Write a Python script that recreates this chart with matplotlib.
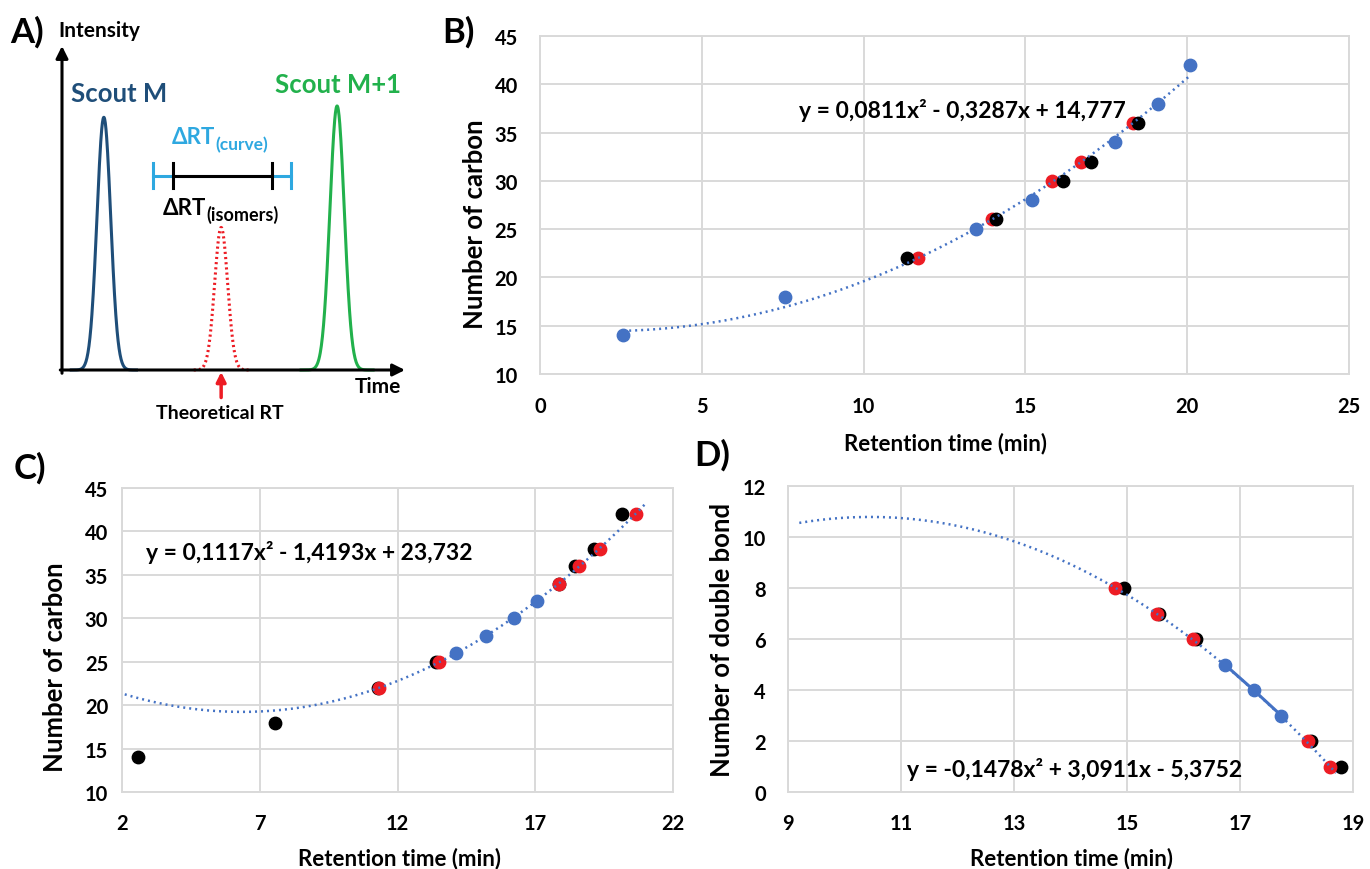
import matplotlib
matplotlib.use('Agg')
import matplotlib.pyplot as plt
import numpy as np

plt.rcParams['font.family'] = ['Lato', 'DejaVu Sans']
plt.rcParams['font.weight'] = 'bold'

W, H = 1370, 870

# ---- panel A : schematic chromatogram (time / intensity units) ----
peak_names = ['Scout M', 'Theoretical', 'Scout M+1']
peak_centers = [1.22, 4.64, 8.02]
peak_heights = [0.78, 0.44, 0.815]
peak_sigmas = [0.20, 0.19, 0.21]
peak_halfspan = [0.95, 0.8, 1.05]
peak_colors = ['#1F4E79', '#ED1C24', '#22B14C']
rt_curve = [2.64, 6.68]
rt_isomers = [3.24, 6.12]
rt_bar_y = 0.6

# ---- panel B ----
b_blue_x = [2.57, 7.58, 13.48, 15.19, 17.78, 19.1, 20.1]
b_blue_y = [14, 18, 25, 28, 34, 38, 42]
b_red_x = [11.67, 13.97, 15.82, 16.72, 18.33]
b_red_y = [22, 26, 30, 32, 36]
b_black_x = [11.35, 14.1, 16.17, 17.03, 18.47]
b_black_y = [22, 26, 30, 32, 36]
b_coef = [0.0811, -0.3287, 14.777]
b_fit_range = [2.57, 20.1]

# ---- panel C ----
c_blue_x = [14.14, 15.2, 16.22, 17.05]
c_blue_y = [26, 28, 30, 32]
c_red_x = [11.32, 13.49, 17.87, 18.58, 19.34, 20.66]
c_red_y = [22, 25, 34, 36, 38, 42]
c_black_x = [2.57, 7.57, 11.3, 13.41, 17.85, 18.46, 19.12, 20.16]
c_black_y = [14, 18, 22, 25, 34, 36, 38, 42]
c_coef = [0.1117, -1.4193, 23.732]
c_fit_range = [2.1, 21.0]

# ---- panel D ----
d_blue_x = [16.73, 17.24, 17.73]
d_blue_y = [5, 4, 3]
d_red_x = [14.79, 15.53, 16.16, 18.2, 18.6]
d_red_y = [8, 7, 6, 2, 1]
d_black_x = [14.95, 15.56, 16.23, 18.26, 18.78]
d_black_y = [8, 7, 6, 2, 1]
d_coef = [-0.1478, 3.0911, -5.3752]
d_fit_range = [9.2, 18.7]

BLUE = '#4472C4'
RED = '#ED1C24'
GRID = '#D9D9D9'
MS = 80
TICK_FS = 14.5
XLAB_FS = 16
YLAB_FS = 18.5
EQ_FS = 16.5


def px_axes(fig, left, top, right, bottom):
    return fig.add_axes([left / W, 1 - bottom / H, (right - left) / W, (bottom - top) / H])


def excel_style(ax, xlim, ylim, xticks, yticks, xpad, ypad):
    ax.set_xlim(xlim)
    ax.set_ylim(ylim)
    ax.set_xticks(xticks)
    ax.set_yticks(yticks)
    ax.grid(True, color=GRID, lw=1.4, zorder=0)
    ax.set_axisbelow(True)
    for s in ax.spines.values():
        s.set_color(GRID)
        s.set_linewidth(1.4)
    ax.tick_params(axis='x', length=0, pad=xpad, labelsize=TICK_FS)
    ax.tick_params(axis='y', length=0, pad=ypad, labelsize=TICK_FS)


def trend(ax, coef, rng):
    xs = np.linspace(rng[0], rng[1], 200)
    ax.plot(xs, np.polyval(coef, xs), color=BLUE, lw=1.8,
            linestyle=(0, (0.8, 1.6)), zorder=5)


fig = plt.figure(figsize=(13.7, 8.7), dpi=100)

# Panel A
axa = px_axes(fig, 62, 47, 405, 371)
axa.set_xlim(0, 10)
axa.set_ylim(0, 1)
axa.axis('off')
for c, h, s, hs, col, name in zip(peak_centers, peak_heights, peak_sigmas,
                                  peak_halfspan, peak_colors, peak_names):
    xs = np.linspace(c - hs, c + hs, 200)
    ys = h * np.exp(-0.5 * ((xs - c) / s) ** 2)
    if name == 'Theoretical':
        axa.plot(xs, ys, color=col, lw=2.2, linestyle=(0, (0.7, 1.0)), clip_on=False)
    else:
        axa.plot(xs, ys, color=col, lw=2.2, clip_on=False)
axa.annotate('', xy=(10, 0), xytext=(-0.05, 0), xycoords='data',
             arrowprops=dict(arrowstyle='-|>', color='black', lw=2.2,
                             mutation_scale=18, shrinkA=0, shrinkB=0),
             annotation_clip=False)
axa.annotate('', xy=(0, 1), xytext=(0, -0.01), xycoords='data',
             arrowprops=dict(arrowstyle='-|>', color='black', lw=2.2,
                             mutation_scale=18, shrinkA=0, shrinkB=0),
             annotation_clip=False)
axa.annotate('', xy=(peak_centers[1], -0.006), xytext=(peak_centers[1], -0.085),
             arrowprops=dict(arrowstyle='-|>', color=RED, lw=2.5,
                             mutation_scale=14, shrinkA=0, shrinkB=0),
             annotation_clip=False)

# Delta RT bars
cap = 0.039
axa.plot(rt_curve, [rt_bar_y, rt_bar_y], color='#2EA8E0', lw=2.2)
for xv in rt_curve:
    axa.plot([xv, xv], [rt_bar_y - cap, rt_bar_y + cap], color='#2EA8E0', lw=2.2)
axa.plot(rt_isomers, [rt_bar_y, rt_bar_y], color='black', lw=2.2)
for xv in rt_isomers:
    axa.plot([xv, xv], [rt_bar_y - cap, rt_bar_y + cap], color='black', lw=2.2)

axa.text(4.475, 0.70, 'ΔRT', color='#2EA8E0', fontsize=16, ha='right', va='baseline')
axa.text(4.475, 0.68, '(curve)', color='#2EA8E0', fontsize=12.5, ha='left', va='baseline')
axa.text(4.21, 0.481, 'ΔRT', color='black', fontsize=16, ha='right', va='baseline')
axa.text(4.21, 0.464, '(isomers)', color='black', fontsize=13, ha='left', va='baseline')
axa.text(1.68, 0.855, 'Scout M', color=peak_colors[0], fontsize=18.5, ha='center', va='center')
axa.text(8.05, 0.883, 'Scout M+1', color=peak_colors[2], fontsize=18.5, ha='center', va='center')
axa.text(1.1, 1.05, 'Intensity', fontsize=15, ha='center', va='center')
axa.text(9.21, -0.05, 'Time', fontsize=15, ha='center', va='center')
axa.text(4.61, -0.13, 'Theoretical RT', fontsize=14, ha='center', va='center')

# Panel B
axb = px_axes(fig, 540, 37, 1349, 375)
excel_style(axb, (0, 25), (10, 45), np.arange(0, 26, 5), np.arange(10, 46, 5), 16, 16)
axb.scatter(b_blue_x, b_blue_y, s=MS, color=BLUE, zorder=3)
axb.scatter(b_red_x, b_red_y, s=MS, color=RED, zorder=3)
axb.scatter(b_black_x, b_black_y, s=MS, color='black', zorder=4)
trend(axb, b_coef, b_fit_range)
axb.text(8.0, 37.4, 'y = 0,0811x² - 0,3287x + 14,777', fontsize=EQ_FS, va='center')

# Panel C
axc = px_axes(fig, 122, 489, 673, 793)
excel_style(axc, (2, 22), (10, 45), np.arange(2, 23, 5), np.arange(10, 46, 5), 15, 10)
axc.scatter(c_black_x, c_black_y, s=MS, color='black', zorder=3)
axc.scatter(c_red_x, c_red_y, s=MS, color=RED, zorder=4)
axc.scatter(c_blue_x, c_blue_y, s=MS, color=BLUE, zorder=4)
trend(axc, c_coef, c_fit_range)
axc.text(2.86, 37.65, 'y = 0,1117x² - 1,4193x + 23,732', fontsize=EQ_FS, va='center')

# Panel D
axd = px_axes(fig, 788, 487, 1353, 793)
excel_style(axd, (9, 19), (0, 12), np.arange(9, 20, 2), np.arange(0, 13, 2), 15, 16)
axd.plot(d_blue_x, d_blue_y, color=BLUE, lw=2.2, marker='o', markersize=8.9, zorder=4)
axd.scatter(d_black_x, d_black_y, s=MS, color='black', zorder=3)
axd.scatter(d_red_x, d_red_y, s=MS, color=RED, zorder=4)
trend(axd, d_coef, d_fit_range)
axd.text(11.1, 0.92, 'y = -0,1478x² + 3,0911x - 5,3752', fontsize=EQ_FS, va='center')

# axis titles
fig.text(945 / W, 1 - 444 / H, 'Retention time (min)', fontsize=XLAB_FS, ha='center', va='center')
fig.text(475 / W, 1 - 224 / H, 'Number of carbon', fontsize=YLAB_FS, ha='center', va='center', rotation=90)
fig.text(399 / W, 1 - 859 / H, 'Retention time (min)', fontsize=XLAB_FS, ha='center', va='center')
fig.text(55 / W, 1 - 667 / H, 'Number of carbon', fontsize=YLAB_FS, ha='center', va='center', rotation=90)
fig.text(1072 / W, 1 - 859 / H, 'Retention time (min)', fontsize=XLAB_FS, ha='center', va='center')
fig.text(722 / W, 1 - 640 / H, 'Number of double bond', fontsize=YLAB_FS, ha='center', va='center', rotation=90)

# panel letters
fig.text(27 / W, 1 - 32 / H, 'A)', fontsize=25, ha='center', va='center')
fig.text(458 / W, 1 - 32 / H, 'B)', fontsize=25, ha='center', va='center')
fig.text(30 / W, 1 - 468 / H, 'C)', fontsize=25, ha='center', va='center')
fig.text(712 / W, 1 - 455 / H, 'D)', fontsize=25, ha='center', va='center')

plt.savefig('out.png', dpi=100, facecolor='w')
plt.close()
